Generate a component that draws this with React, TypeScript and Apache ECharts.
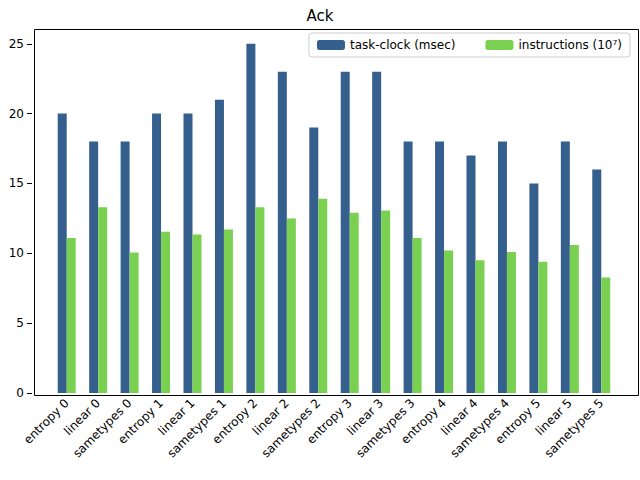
import React, { useEffect, useRef } from 'react';
import * as echarts from 'echarts';

const categories = [
  'entropy 0', 'linear 0', 'sametypes 0',
  'entropy 1', 'linear 1', 'sametypes 1',
  'entropy 2', 'linear 2', 'sametypes 2',
  'entropy 3', 'linear 3', 'sametypes 3',
  'entropy 4', 'linear 4', 'sametypes 4',
  'entropy 5', 'linear 5', 'sametypes 5',
];
const taskClock = [20, 18, 18, 20, 20, 21, 25, 23, 19, 23, 23, 18, 18, 17, 18, 15, 18, 16];
const instructions = [11.1, 13.3, 10.05, 11.55, 11.35, 11.7, 13.3, 12.5, 13.9, 12.9, 13.07, 11.1, 10.2, 9.5, 10.1, 9.4, 10.6, 8.26];

const App: React.FC = () => {
  const chartRef = useRef<HTMLDivElement>(null);

  useEffect(() => {
    const chart = echarts.init(chartRef.current, null, { renderer: 'svg' });
    const font = 'DejaVu Sans';
    chart.setOption({
      animation: false,
      textStyle: { fontFamily: font },
      title: {
        text: 'Ack', left: 'center', top: 3,
        textStyle: { fontFamily: font, fontSize: 15, fontWeight: 'normal', color: '#000' },
      },
      legend: {
        right: 10, top: 33, orient: 'horizontal',
        itemWidth: 28, itemHeight: 10, itemGap: 30,
        borderColor: '#ccc', borderWidth: 1, borderRadius: 3, padding: [6, 8],
        textStyle: { fontFamily: font, fontSize: 12, color: '#000' },
        data: ['task-clock (msec)', 'instructions (10⁷)'],
      },
      grid: { left: 51, right: 23, top: 27, bottom: 87 },
      xAxis: {
        type: 'category', data: categories,
        axisLine: { show: false },
        axisTick: { alignWithLabel: true, lineStyle: { color: '#000' } },
        axisLabel: { rotate: 45, color: '#000', fontSize: 12, interval: 0, fontFamily: font },
      },
      yAxis: {
        type: 'value', min: 0, max: 26.2, interval: 5, offset: 19,
        splitLine: { show: false },
        axisLine: { show: false },
        axisTick: { show: true, lineStyle: { color: '#000' } },
        axisLabel: { color: '#000', fontSize: 12, fontFamily: font, showMaxLabel: false },
      },
      graphic: [{
        type: 'rect', left: 32, top: 27, shape: { width: 604, height: 366 },
        style: { fill: 'none', stroke: '#000', lineWidth: 1 }, silent: true,
      }],
      series: [
        {
          name: 'task-clock (msec)', type: 'bar', data: taskClock,
          barWidth: 9, barGap: '0%', itemStyle: { color: '#35608d' },
        },
        {
          name: 'instructions (10⁷)', type: 'bar', data: instructions,
          barWidth: 9, itemStyle: { color: '#7ad151' },
        },
      ],
    });
    return () => chart.dispose();
  }, []);

  return <div ref={chartRef} style={{ width: 640, height: 480, position: 'absolute', left: 0, top: 0 }} />;
};

export default App;
